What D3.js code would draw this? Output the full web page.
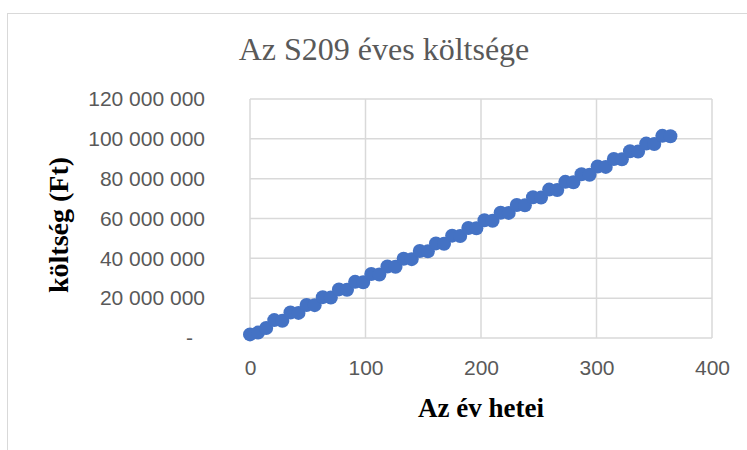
<!DOCTYPE html>
<html>
<head>
<meta charset="utf-8">
<script src="https://cdn.jsdelivr.net/npm/d3@7"></script>
<style>
  body { margin: 0; background: #fff; }
  svg { display: block; }
</style>
</head>
<body>
<div id="chart"></div>
<script>
// chart size
const width = 747,
      height = 450;

const margin = {top: 99, right: 35, bottom: 112, left: 250};

const title = 'Az S209 éves költsége';
const xTitle = 'Az év hetei';
const yTitle = 'költség (Ft)';

// weeks of the year (days: 0, 7, 14, ...)
const days = [0, 7, 14, 21, 28, 35, 42, 49, 56, 63, 70, 77, 84, 91, 98, 105, 112, 119,
  126, 133, 140, 147, 154, 161, 168, 175, 182, 189, 196, 203, 210, 217, 224, 231, 238,
  245, 252, 259, 266, 273, 280, 287, 294, 301, 308, 315, 322, 329, 336, 343, 350, 357, 364];

// cost in Ft
const costs = [1800000, 2700000, 5000000, 9000000, 8600000, 12800000, 12600000, 16600000,
  16500000, 20500000, 20300000, 24400000, 24200000, 28200000, 28000000, 32100000, 31900000,
  35900000, 35800000, 39800000, 39600000, 43700000, 43500000, 47500000, 47300000, 51400000,
  51200000, 55200000, 55100000, 59100000, 58900000, 62900000, 62800000, 66800000, 66600000,
  70700000, 70500000, 74500000, 74300000, 78400000, 78200000, 82200000, 82000000, 86100000,
  85900000, 89900000, 89700000, 93800000, 93600000, 97600000, 97400000, 101500000, 101300000];

const xTicks = [0, 100, 200, 300, 400];
const yTicks = [0, 20000000, 40000000, 60000000, 80000000, 100000000, 120000000];

const points = days.map((d, i) => ({day: d, cost: costs[i]}));

const svg = d3.select('#chart').append('svg')
    .attr('width', width)
    .attr('height', height);

// chart frame
svg.append('rect')
    .attr('x', 7.5)
    .attr('y', 13.5)
    .attr('width', 760)
    .attr('height', 460)
    .attr('fill', 'white')
    .attr('stroke', '#d9d9d9');

const x = d3.scaleLinear()
    .domain([0, 400])
    .range([margin.left, width - margin.right]);

const y = d3.scaleLinear()
    .domain([0, 120000000])
    .range([height - margin.bottom, margin.top]);

// grid
svg.append('g')
  .selectAll('line.hgrid')
  .data(yTicks)
  .join('line')
    .attr('class', 'hgrid')
    .attr('x1', x(0))
    .attr('x2', x(400))
    .attr('y1', d => y(d))
    .attr('y2', d => y(d))
    .attr('stroke', '#d9d9d9')
    .attr('stroke-width', 1.5);

svg.append('g')
  .selectAll('line.vgrid')
  .data(xTicks)
  .join('line')
    .attr('class', 'vgrid')
    .attr('x1', d => x(d))
    .attr('x2', d => x(d))
    .attr('y1', y(0))
    .attr('y2', y(120000000))
    .attr('stroke', '#d9d9d9')
    .attr('stroke-width', 1.5);

// axes (labels only, lines come from the grid)
const fmt = d => d === 0 ? '-' : d3.format(',')(d).replace(/,/g, ' ');

const yAxis = svg.append('g')
    .attr('transform', `translate(${x(0) - 45},0)`)
    .call(d3.axisLeft(y).tickValues(yTicks).tickFormat(fmt).tickSize(0).tickPadding(0));
yAxis.select('.domain').remove();
yAxis.selectAll('text')
    .attr('fill', '#595959')
    .style('font-family', '"Liberation Sans", Arial, sans-serif')
    .style('font-size', '21px')
    .attr('dx', d => d === 0 ? -12 : 0);

const xAxis = svg.append('g')
    .attr('transform', `translate(0,${y(0)})`)
    .call(d3.axisBottom(x).tickValues(xTicks).tickFormat(d => d).tickSize(0).tickPadding(22));
xAxis.select('.domain').remove();
xAxis.selectAll('text')
    .attr('fill', '#595959')
    .style('font-family', '"Liberation Sans", Arial, sans-serif')
    .style('font-size', '21px');

// points
svg.append('g')
  .selectAll('circle')
  .data(points)
  .join('circle')
    .attr('cx', d => x(d.day))
    .attr('cy', d => y(d.cost))
    .attr('r', 7)
    .attr('fill', '#4472c4');

// titles
svg.append('text')
    .attr('x', 384)
    .attr('y', 60)
    .attr('text-anchor', 'middle')
    .attr('fill', '#595959')
    .style('font-family', '"Liberation Serif", "Times New Roman", serif')
    .style('font-size', '32px')
    .text(title);

svg.append('text')
    .attr('x', x(200))
    .attr('y', 417)
    .attr('text-anchor', 'middle')
    .attr('fill', '#000')
    .style('font-family', '"Liberation Serif", "Times New Roman", serif')
    .style('font-weight', 'bold')
    .style('font-size', '27px')
    .text(xTitle);

svg.append('text')
    .attr('transform', `translate(68,225) rotate(-90)`)
    .attr('text-anchor', 'middle')
    .attr('fill', '#000')
    .style('font-family', '"Liberation Serif", "Times New Roman", serif')
    .style('font-weight', 'bold')
    .style('font-size', '28px')
    .text(yTitle);
</script>
</body>
</html>
